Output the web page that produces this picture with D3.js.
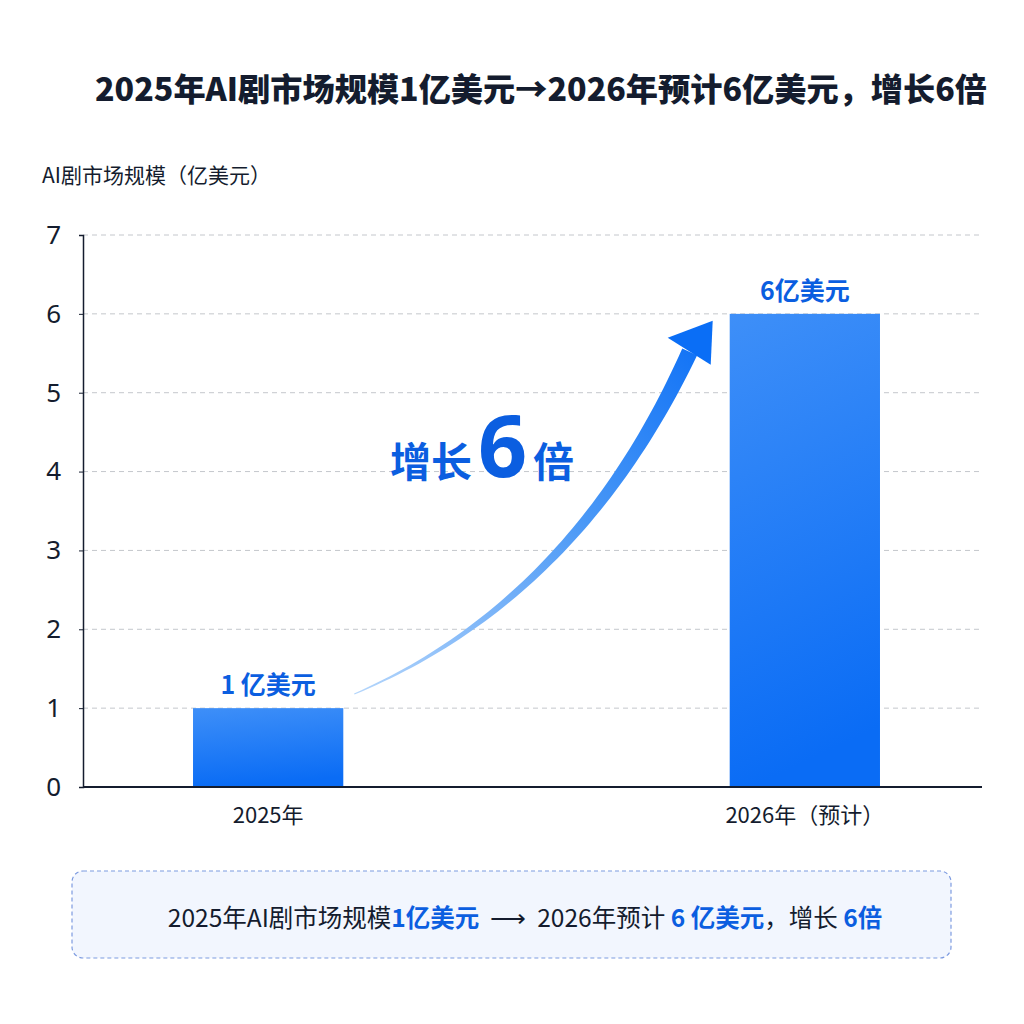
<!DOCTYPE html>
<html>
<head>
<meta charset="utf-8">
<script src="https://cdn.jsdelivr.net/npm/d3@7"></script>
<style>
  body { margin: 0; background: #fff; }
  text { font-family: "Noto Sans CJK SC", "Noto Sans", sans-serif; }
</style>
</head>
<body>
<div id="chart"></div>
<script>
// chart data
const categories = ['2025年', '2026年（预计）'];
const values = [1, 6];
const valueLabels = ['1 亿美元', '6亿美元'];
const yTicks = [0, 1, 2, 3, 4, 5, 6, 7];

const titleText = '2025年AI剧市场规模1亿美元→2026年预计6亿美元，增长6倍';
const yAxisTitle = 'AI剧市场规模（亿美元）';
// summary line: [text, highlighted]
const summaryParts = [
    ['2025年AI剧市场规模', false],
    ['1亿美元', true],
    ['  ⟶  ', false],
    ['2026年预计 ', false],
    ['6 亿美元', true],
    ['，增长 ', false],
    ['6倍', true]
];

const width = 1024, height = 1024;
const plotLeft = 83, plotRight = 982, plotTop = 235, plotBottom = 787;
const dark = '#141c2e';
const blue = '#0b5ee0';

const svg = d3.select('#chart')
    .append('svg')
    .attr('width', width)
    .attr('height', height);

const defs = svg.append('defs');

const barGrad = defs.append('linearGradient')
    .attr('id', 'barGrad')
    .attr('x1', 0).attr('y1', 0).attr('x2', 0.15).attr('y2', 1);
barGrad.append('stop').attr('offset', '0%').attr('stop-color', '#3e8ff8');
barGrad.append('stop').attr('offset', '100%').attr('stop-color', '#0a6cf5');

// band range runs a little past the plot edge so the bars sit where they do in the source
const x = d3.scaleBand()
    .domain(categories)
    .range([plotLeft, 990])
    .paddingInner(0.72)
    .paddingOuter(0.205);

const y = d3.scaleLinear()
    .domain([0, 7])
    .range([plotBottom, plotTop]);

// title
svg.append('text')
    .attr('x', 95)
    .attr('y', 101)
    .attr('textLength', 892)
    .attr('lengthAdjust', 'spacingAndGlyphs')
    .style('font-size', '32px')
    .style('font-weight', 900)
    .style('fill', dark)
    .text(titleText);

// y axis title
svg.append('text')
    .attr('x', 42)
    .attr('y', 183)
    .style('font-size', '21px')
    .style('fill', dark)
    .text(yAxisTitle);

// grid lines
svg.selectAll('.grid')
    .data(yTicks.filter(d => d > 0))
    .enter()
    .append('line')
    .attr('class', 'grid')
    .attr('x1', plotLeft)
    .attr('x2', plotRight)
    .attr('y1', d => y(d))
    .attr('y2', d => y(d))
    .style('stroke', '#c4c7cc')
    .style('stroke-width', 1)
    .style('stroke-dasharray', '5,4');

// y axis
const yAxis = svg.append('g')
    .attr('transform', `translate(${plotLeft},0)`)
    .call(d3.axisLeft(y).tickValues(yTicks).tickSize(4).tickPadding(18).tickFormat(d3.format('d')));
yAxis.select('.domain').style('stroke', dark).style('stroke-width', 1.5);
yAxis.selectAll('.tick line').style('stroke', dark);
yAxis.selectAll('.tick text')
    .style('font-size', '26px')
    .style('fill', dark)
    .style('font-family', '"Noto Sans", sans-serif');

// bars
svg.selectAll('.bar')
    .data(values)
    .enter()
    .append('rect')
    .attr('class', 'bar')
    .attr('x', (d, i) => x(categories[i]))
    .attr('y', d => y(d))
    .attr('width', x.bandwidth())
    .attr('height', d => plotBottom - y(d))
    .style('fill', 'url(#barGrad)');

// x axis line
svg.append('line')
    .attr('x1', plotLeft)
    .attr('x2', plotRight)
    .attr('y1', plotBottom)
    .attr('y2', plotBottom)
    .style('stroke', dark)
    .style('stroke-width', 2);

// category labels
svg.selectAll('.cat')
    .data(categories)
    .enter()
    .append('text')
    .attr('class', 'cat')
    .attr('x', d => x(d) + x.bandwidth() / 2)
    .attr('y', 823)
    .attr('text-anchor', 'middle')
    .style('font-size', '22px')
    .style('fill', dark)
    .text(d => d);

// value labels
svg.selectAll('.val')
    .data(values)
    .enter()
    .append('text')
    .attr('class', 'val')
    .attr('x', (d, i) => x(categories[i]) + x.bandwidth() / 2)
    .attr('y', d => y(d) - 14)
    .attr('text-anchor', 'middle')
    .style('font-size', '25px')
    .style('font-weight', 700)
    .style('fill', blue)
    .text((d, i) => valueLabels[i]);

// growth arrow: tapered curve from first bar to second
const x0 = x(categories[0]) + x.bandwidth() + 11;
const y0 = y(values[0] * 1.18);
const tipX = x(categories[1]) - 17;
const tipY = y(values[1]) + 7;
const p0 = [x0, y0];
const p2 = [tipX - 23, tipY + 31];
const c = [575, 600];

function bez(t) {
    const a = (1 - t) * (1 - t), b = 2 * (1 - t) * t, e = t * t;
    return [a * p0[0] + b * c[0] + e * p2[0], a * p0[1] + b * c[1] + e * p2[1]];
}
function bezD(t) {
    return [2 * (1 - t) * (c[0] - p0[0]) + 2 * t * (p2[0] - c[0]),
            2 * (1 - t) * (c[1] - p0[1]) + 2 * t * (p2[1] - c[1])];
}
const sideA = [], sideB = [];
const steps = 60;
for (let k = 0; k <= steps; k++) {
    const t = k / steps;
    const p = bez(t), d = bezD(t);
    const len = Math.hypot(d[0], d[1]);
    const nx = -d[1] / len, ny = d[0] / len;
    const w = 0.6 + 7.6 * Math.pow(t, 1.1);
    sideA.push([p[0] + nx * w, p[1] + ny * w]);
    sideB.push([p[0] - nx * w, p[1] - ny * w]);
}

const arrowGrad = defs.append('linearGradient')
    .attr('id', 'arrowGrad')
    .attr('gradientUnits', 'userSpaceOnUse')
    .attr('x1', x0).attr('y1', y0)
    .attr('x2', tipX).attr('y2', tipY);
arrowGrad.append('stop').attr('offset', '0%').attr('stop-color', '#b5d6fb');
arrowGrad.append('stop').attr('offset', '55%').attr('stop-color', '#4a98f6');
arrowGrad.append('stop').attr('offset', '100%').attr('stop-color', '#0a6ef6');

svg.append('path')
    .attr('d', d3.line()(sideA.concat(sideB.reverse())) + 'Z')
    .style('fill', 'url(#arrowGrad)');

// arrow head
svg.append('path')
    .attr('d', d3.line()([[tipX, tipY], [tipX - 45, tipY + 17], [tipX - 2, tipY + 44]]) + 'Z')
    .style('fill', '#0a6ef6');

// growth annotation
const growth = svg.append('text')
    .attr('x', 482)
    .attr('y', 477)
    .attr('text-anchor', 'middle')
    .style('font-weight', 700)
    .style('fill', blue);
growth.append('tspan').style('font-size', '41px').text('增长');
growth.append('tspan').attr('dx', 6).style('font-size', '86px').style('font-family', '"Noto Sans", sans-serif').text('6');
growth.append('tspan').attr('dx', 6).style('font-size', '41px').text('倍');

// summary box
svg.append('rect')
    .attr('x', 72)
    .attr('y', 871)
    .attr('width', 879)
    .attr('height', 87)
    .attr('rx', 11)
    .style('fill', '#f2f6fe')
    .style('stroke', '#7d9be0')
    .style('stroke-width', 1.2)
    .style('stroke-dasharray', '4,3');

const summary = svg.append('text')
    .attr('x', 525)
    .attr('y', 927)
    .attr('text-anchor', 'middle')
    .style('font-size', '24.5px')
    .style('white-space', 'pre');
summaryParts.forEach(([t, hi]) => {
    summary.append('tspan')
        .style('fill', hi ? blue : dark)
        .style('font-weight', hi ? 700 : 400)
        .text(t);
});
</script>
</body>
</html>
